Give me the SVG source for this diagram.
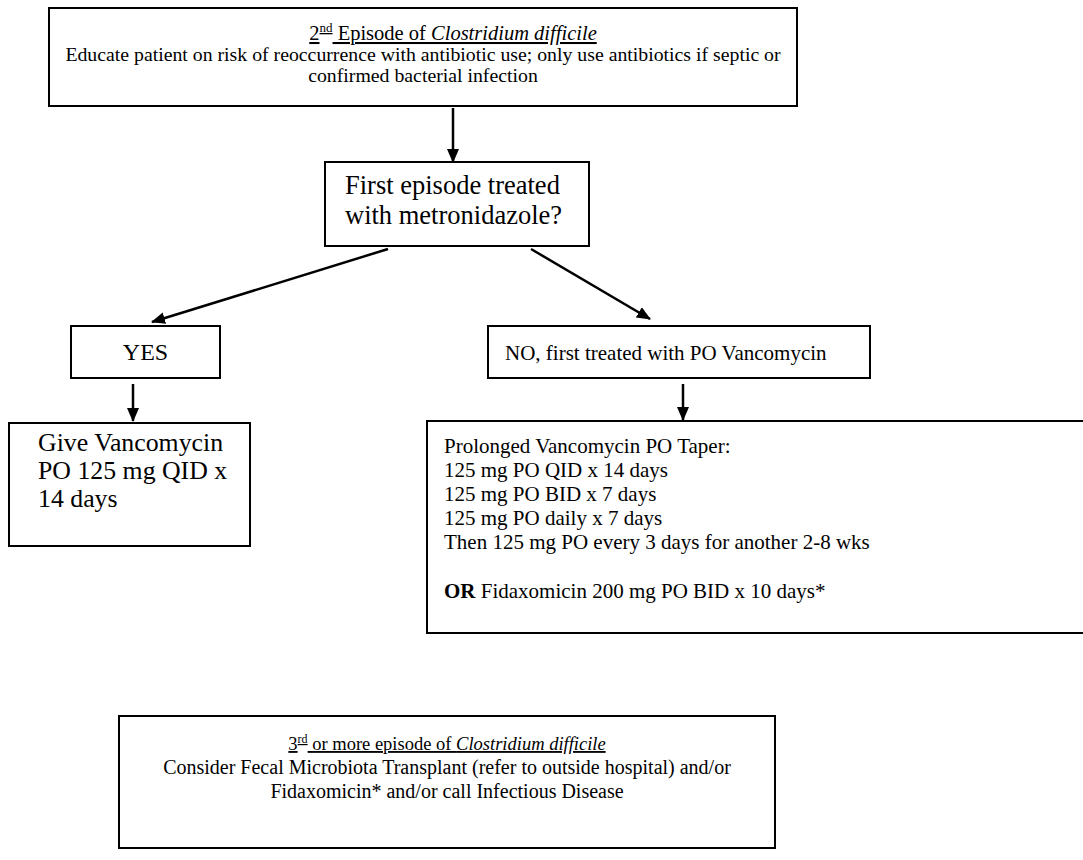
<svg xmlns="http://www.w3.org/2000/svg" width="1083" height="860" viewBox="0 0 1083 860">
<style>
.box{fill:#fff;stroke:#000;stroke-width:2}
.t{font-family:"Liberation Serif","Times New Roman",serif;fill:#000}
.c{stroke:#000;stroke-width:2.5;fill:none}
</style>
<defs>
<marker id="ah" markerWidth="14" markerHeight="14" refX="13" refY="7" orient="auto" markerUnits="userSpaceOnUse" viewBox="0 0 14 14">
<path d="M0,1 L14,7 L0,13 z" fill="#000"/>
</marker>
</defs>
<rect width="1083" height="860" fill="#fff"/>
<g id="connectors">
<line class="c" x1="453" y1="108" x2="453" y2="162" marker-end="url(#ah)"/>
<line class="c" x1="388" y1="249" x2="152" y2="322" marker-end="url(#ah)"/>
<line class="c" x1="531" y1="249" x2="650" y2="319" marker-end="url(#ah)"/>
<line class="c" x1="133" y1="384" x2="133" y2="421" marker-end="url(#ah)"/>
<line class="c" x1="683" y1="384" x2="683" y2="420" marker-end="url(#ah)"/>
</g>
<g id="n1">
<rect class="box" x="49" y="8" width="748" height="98"/>
<text class="t" x="453" y="40" font-size="20.5" text-anchor="middle" text-decoration="underline">2<tspan font-size="13" dy="-8">nd</tspan><tspan dy="8"> Episode of </tspan><tspan font-style="italic">Clostridium difficile</tspan></text>
<text class="t" x="423" y="61" font-size="19.8" text-anchor="middle">Educate patient on risk of reoccurrence with antibiotic use; only use antibiotics if septic or</text>
<text class="t" x="423" y="82" font-size="19.8" text-anchor="middle">confirmed bacterial infection</text>
</g>
<g id="n2">
<rect class="box" x="325" y="162" width="264" height="84"/>
<text class="t" x="345" y="194" font-size="26.5">First episode treated</text>
<text class="t" x="345" y="224" font-size="26.5">with metronidazole?</text>
</g>
<g id="n3">
<rect class="box" x="71" y="326" width="149" height="52"/>
<text class="t" x="145.5" y="360" font-size="24" text-anchor="middle">YES</text>
</g>
<g id="n4">
<rect class="box" x="488" y="326" width="382" height="52"/>
<text class="t" x="505" y="360" font-size="21">NO, first treated with PO Vancomycin</text>
</g>
<g id="n5">
<rect class="box" x="9" y="423" width="241" height="123"/>
<text class="t" x="38" y="451" font-size="25.8">Give Vancomycin</text>
<text class="t" x="38" y="479" font-size="25.8">PO 125 mg QID x</text>
<text class="t" x="38" y="507" font-size="25.8">14 days</text>
</g>
<g id="n6">
<rect class="box" x="427" y="421" width="670" height="212"/>
<g class="t" font-size="21">
<text x="444" y="453">Prolonged Vancomycin PO Taper:</text>
<text x="444" y="477">125 mg PO QID x 14 days</text>
<text x="444" y="501">125 mg PO BID x 7 days</text>
<text x="444" y="525">125 mg PO daily x 7 days</text>
<text x="444" y="549">Then 125 mg PO every 3 days for another 2-8 wks</text>
<text x="444" y="598"><tspan font-weight="bold">OR</tspan> Fidaxomicin 200 mg PO BID x 10 days*</text>
</g>
</g>
<g id="n7">
<rect class="box" x="119" y="716" width="656" height="132"/>
<g class="t" text-anchor="middle">
<text x="447" y="750" font-size="18.5" text-decoration="underline">3<tspan font-size="12" dy="-7">rd</tspan><tspan dy="7"> or more episode of </tspan><tspan font-style="italic">Clostridium difficile</tspan></text>
<text x="447" y="774" font-size="20">Consider Fecal Microbiota Transplant (refer to outside hospital) and/or</text>
<text x="447" y="798" font-size="20">Fidaxomicin* and/or call Infectious Disease</text>
</g>
</g>
</svg>
